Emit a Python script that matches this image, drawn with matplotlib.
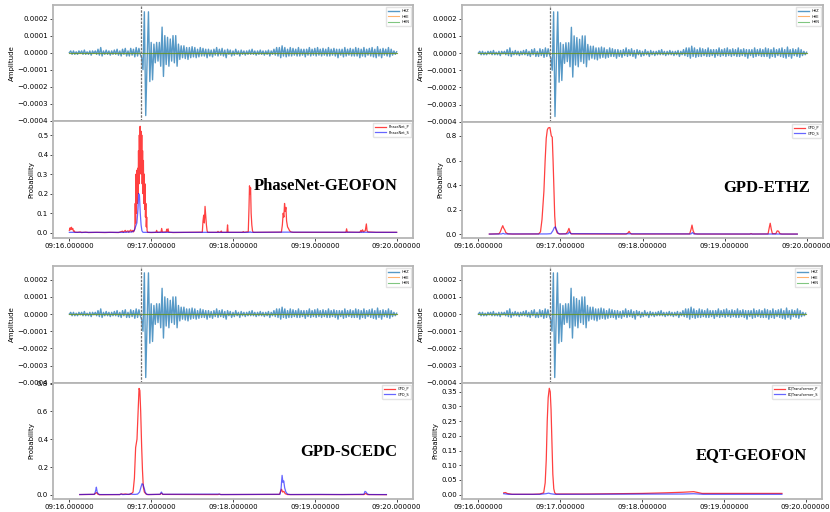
import matplotlib
matplotlib.use("Agg")
import matplotlib.pyplot as plt
from matplotlib.ticker import FuncFormatter, MultipleLocator
import numpy as np

# seconds after 09:16:00, one sample per second (0..240)
wave_t = list(range(241))
# HHZ amplitude, units of 1e-5
hhz = [
    0, 1, -1, 1, -1, 0.5, -1, 1, -0.5, 1,
    -1, 1.5, -1, 0.5, -1, 1, -1.5, 1, -0.5, 1,
    -1, 2, -1.5, 3, -2, 1, -1, 1.5, -1, 1,
    -1.5, 1, -1, 1.5, -1, 2, -1.5, 1, -2, 2,
    -1, 2.5, -2, 1, -2, 2.5, -1.5, 2, -2.5, 3,
    -2, 2.5, -1, -3, -10, 24, -37, -5, 24, -17,
    6, -16, 5, -6, 6, -5, 6, -8, 15, -14,
    10, -7, 9, -8, 8, -5, 10, -6, 10, -8,
    5, -4, 4, -3, 4, -3.5, 3, -4, 3, -3,
    3.5, -2.5, 3, -3, 2, -2.5, 3, -2, 2.5, -2,
    2, -3, 2, -2, 1.5, -2.5, 2, -1.5, 3, -2,
    2, -1.5, 2.5, -2, 1.5, -3, 2, -1, 1.5, -2,
    1, -1.5, 2, -1, 1, -2, 1.5, -1, 1, -1.5,
    1, -1, 1.5, -1, 2, -1, 1, -1.5, 1, -1,
    1.5, -1, 1, -1.5, 1, -1, 1.5, -2, 1, -1,
    2, -1.5, 3, -2, 3, -3, 4, -2, 3, -2.5,
    2, -2, 3, -2, 2.5, -1.5, 2, -2, 3, -2,
    2, -1.5, 2, -2.5, 2, -1.5, 3, -2, 2, -1.5,
    2.5, -2, 3, -1.5, 2, -2, 2.5, -1.5, 2, -2,
    3, -2, 2, -1.5, 2.5, -2, 2, -3, 2, -1.5,
    2, -2.5, 3, -2, 2, -1.5, 2.5, -2, 2, -2,
    3, -2, 2.5, -3, 2, -2, 3, -2.5, 2, -1.5,
    2.5, -2, 3, -2.5, 2, -3, 3.5, -2, 2, -3,
    2.5, -1.5, 2, -2, 3, -2.5, 2, -1.5, 1, -1,
    0.5,
]
hhe = [0.0] * 241
hhn = [0.0] * 241
pick_t = 52.3

# probability traces: (seconds after 09:16:00, probability)
phasenet_p = [(0, 0.012), (0.5, 0.025), (1, 0.015), (1.5, 0.028), (2, 0.018), (2.5, 0.022),
    (3, 0.008), (3.5, 0.01), (4, 0.003), (6, 0.002), (8, 0.004), (9, 0.001), (12, 0.003),
    (14, 0.001), (20, 0.002), (26, 0.001), (30, 0.002), (36, 0.001), (39, 0.008), (39.5, 0.002),
    (41, 0.012), (41.5, 0.004), (43, 0.01), (43.5, 0.003), (45, 0.014), (45.5, 0.005),
    (46.5, 0.012), (47, 0.004), (47.5, 0.01), (48, 0.02), (48.3, 0.15), (48.6, 0.05), (48.9, 0.3),
    (49.2, 0.1), (49.5, 0.32), (49.8, 0.15), (50.1, 0.33), (50.4, 0.2), (50.7, 0.42), (51.0, 0.25),
    (51.3, 0.5), (51.6, 0.3), (51.9, 0.545), (52.2, 0.35), (52.5, 0.52), (52.8, 0.3), (53.1, 0.5),
    (53.4, 0.25), (53.7, 0.42), (54.0, 0.2), (54.3, 0.37), (54.6, 0.15), (54.9, 0.3), (55.2, 0.12),
    (55.5, 0.25), (55.8, 0.08), (56.1, 0.15), (56.4, 0.03), (56.7, 0.08), (57.0, 0.01),
    (57.5, 0.002), (60, 0.001), (63.5, 0.002), (64, 0.012), (64.5, 0.002), (67.2, 0.003),
    (67.7, 0.022), (68.2, 0.003), (71, 0.004), (71.4, 0.018), (71.8, 0.005), (72.4, 0.02),
    (72.8, 0.003), (76, 0.001), (90, 0.002), (97.5, 0.003), (98, 0.06), (98.5, 0.09), (99, 0.05),
    (99.5, 0.135), (100, 0.09), (100.5, 0.04), (101, 0.01), (101.5, 0.002), (108.5, 0.002),
    (109, 0.007), (109.5, 0.002), (111, 0.003), (111.4, 0.009), (111.8, 0.002), (115.6, 0.002),
    (116, 0.04), (116.4, 0.002), (127, 0.002), (127.5, 0.006), (128, 0.002), (131.2, 0.005),
    (131.7, 0.12), (132.1, 0.24), (132.5, 0.2), (132.9, 0.23), (133.3, 0.1), (133.8, 0.04),
    (134.3, 0.01), (134.8, 0.002), (155.5, 0.003), (156.2, 0.04), (156.8, 0.1), (157.3, 0.08),
    (157.8, 0.15), (158.3, 0.11), (158.8, 0.13), (159.3, 0.06), (160, 0.03), (160.8, 0.02),
    (161.5, 0.01), (162.5, 0.004), (164, 0.002), (180, 0.002), (202.8, 0.002), (203.3, 0.02),
    (203.8, 0.003), (213, 0.002), (213.8, 0.012), (214.3, 0.004), (215, 0.015), (215.6, 0.005),
    (217, 0.01), (217.8, 0.045), (218.3, 0.01), (219, 0.004), (225, 0.002), (240, 0.002)]
phasenet_s = [(0, 0.002), (40, 0.002), (46, 0.004), (47.5, 0.01), (48.5, 0.03), (49.5, 0.05),
    (50.3, 0.12), (50.8, 0.2), (51.4, 0.19), (52, 0.1), (52.6, 0.04), (53.2, 0.01), (54, 0.002),
    (132, 0.002), (132.5, 0.005), (133, 0.002), (158, 0.003), (240, 0.002)]

gpd_ethz_p = [(8, 0.002), (15, 0.004), (16, 0.02), (17, 0.05), (17.8, 0.07), (18.5, 0.05),
    (19.3, 0.035), (20, 0.015), (21.5, 0.004), (25, 0.002), (44, 0.003), (45.4, 0.02),
    (46.5, 0.12), (47.9, 0.35), (48.8, 0.6), (49.6, 0.78), (50.4, 0.85), (51.1, 0.865),
    (52.3, 0.868), (53.3, 0.8), (54, 0.79), (54.6, 0.6), (55.2, 0.38), (55.8, 0.15), (56.4, 0.05),
    (57.6, 0.012), (59, 0.003), (64, 0.004), (65.2, 0.02), (66.2, 0.048), (67.2, 0.015),
    (68, 0.003), (108, 0.002), (109.5, 0.012), (110.2, 0.024), (111, 0.01), (112, 0.002),
    (154.5, 0.003), (155.5, 0.04), (156.2, 0.075), (157, 0.03), (158, 0.005), (160, 0.002),
    (198.5, 0.002), (199.4, 0.006), (200.3, 0.002), (211.8, 0.003), (212.8, 0.06), (213.4, 0.09),
    (214.2, 0.04), (215, 0.005), (217.5, 0.005), (218.5, 0.028), (219.5, 0.025), (220.5, 0.005),
    (222, 0.002), (233.2, 0.002)]
gpd_ethz_s = [(8, 0.002), (17, 0.003), (18, 0.008), (19, 0.003), (50, 0.003), (53, 0.005),
    (54.5, 0.03), (55.5, 0.055), (56.3, 0.06), (57.2, 0.035), (58.2, 0.01), (59.5, 0.003),
    (65.5, 0.004), (66.5, 0.02), (67.5, 0.005), (155.5, 0.003), (156.5, 0.015), (157.5, 0.003),
    (233.2, 0.002)]

gpd_scedc_p = [(7.6, 0.002), (18, 0.003), (19.3, 0.012), (20, 0.016), (21, 0.004), (22, 0.001),
    (37, 0.002), (38, 0.006), (39.5, 0.004), (41, 0.006), (43, 0.003), (45, 0.004), (46.7, 0.02),
    (47.7, 0.12), (48.6, 0.34), (49.6, 0.4), (50.5, 0.62), (51.1, 0.765), (51.7, 0.75),
    (52.3, 0.6), (53, 0.35), (53.6, 0.18), (54.2, 0.06), (55, 0.02), (56, 0.008), (57, 0.002),
    (66.5, 0.003), (67.5, 0.012), (68.5, 0.003), (109, 0.002), (110, 0.005), (111, 0.002),
    (154, 0.003), (155, 0.025), (155.6, 0.04), (156.4, 0.02), (157.3, 0.025), (158.3, 0.008),
    (160, 0.002), (216, 0.002), (217.3, 0.01), (218.5, 0.002), (232.5, 0.001)]
gpd_scedc_s = [(7.6, 0.002), (18.5, 0.004), (19.4, 0.035), (19.8, 0.055), (20.4, 0.02),
    (21, 0.01), (22, 0.002), (37, 0.002), (38, 0.006), (39, 0.002), (44, 0.004), (45, 0.01),
    (46, 0.004), (48, 0.003), (50, 0.005), (51.5, 0.02), (52.5, 0.055), (53.3, 0.08), (54, 0.075),
    (54.8, 0.05), (55.6, 0.02), (56.5, 0.005), (58, 0.002), (66.5, 0.004), (67.5, 0.02),
    (68.5, 0.004), (110, 0.005), (111, 0.002), (135, 0.003), (154.5, 0.004), (155.3, 0.05),
    (156, 0.14), (156.6, 0.09), (157.2, 0.1), (157.9, 0.05), (158.8, 0.02), (160, 0.005),
    (162, 0.002), (183, 0.003), (200, 0.002), (216, 0.004), (216.8, 0.025), (217.6, 0.02),
    (218.4, 0.008), (219.5, 0.002), (232.5, 0.002)]

eqt_p = [(18.6, 0.006), (20, 0.007), (21, 0.004), (24.7, 0.001), (40, 0.001), (45, 0.002),
    (47.9, 0.006), (49, 0.04), (49.8, 0.12), (50.5, 0.25), (51.2, 0.33), (52, 0.362),
    (52.7, 0.35), (53.3, 0.29), (54, 0.17), (54.6, 0.07), (55.3, 0.02), (56, 0.006), (57, 0.002),
    (80, 0.002), (100, 0.003), (120, 0.004), (137, 0.006), (150, 0.008), (157.9, 0.01),
    (161, 0.007), (164, 0.004), (190, 0.004), (222.6, 0.004)]
eqt_s = [(18.6, 0.003), (22, 0.001), (45, 0.001), (49.5, 0.003), (51.5, 0.005), (53, 0.003),
    (56, 0.001), (150, 0.002), (158, 0.003), (165, 0.001), (222.6, 0.001)]

W, H = 830, 512


def rect(left, right, top, bottom):
    return [left / W, 1 - bottom / H, (right - left) / W, (bottom - top) / H]


panels = [
    # name, P, S, legend names, ylim, label pos, box (left, right, top, split, bottom)
    ("PhaseNet-GEOFON", phasenet_p, phasenet_s, ("PhaseNet_P", "PhaseNet_S"),
     (-0.027, 0.572), (0.958, 0.445), (53, 413, 5, 121, 238)),
    ("GPD-ETHZ", gpd_ethz_p, gpd_ethz_s, ("GPD_P", "GPD_S"),
     (-0.03, 0.913), (0.963, 0.43), (462, 823, 5, 122, 238)),
    ("GPD-SCEDC", gpd_scedc_p, gpd_scedc_s, ("GPD_P", "GPD_S"),
     (-0.03, 0.804), (0.957, 0.405), (53, 413, 266, 383, 499)),
    ("EQT-GEOFON", eqt_p, eqt_s, ("EQTransformer_P", "EQTransformer_S"),
     (-0.015, 0.38), (0.958, 0.38), (462, 822, 266, 383, 499)),
]

fig = plt.figure(figsize=(8.3, 5.12), dpi=100)
amp = np.array(hhz) * 1e-5

time_fmt = FuncFormatter(lambda x, pos: "09:%02d.000000" % (16 + int(round(x / 60))))
amp_fmt = FuncFormatter(lambda x, pos: ("%.4f" % x).replace("-", "\u2212"))

for name, p, s, names, ylim, lpos, box in panels:
    l, r, t, m, b = box
    axw = fig.add_axes(rect(l, r, t, m))
    axp = fig.add_axes(rect(l, r, m, b), sharex=axw)

    axw.plot(wave_t, amp, color="#1f77b4", alpha=0.75, lw=1.0, label="HHZ")
    axw.plot(wave_t, np.array(hhe), color="#ff7f0e", alpha=0.6, lw=0.8, label="HHE")
    axw.plot(wave_t, np.array(hhn), color="#2ca02c", alpha=0.6, lw=0.8, label="HHN")
    axw.axvline(pick_t, color="0.45", ls=(0, (2, 1)), lw=0.9)
    axw.set_ylim(-0.000402, 0.00028)
    axw.yaxis.set_major_locator(MultipleLocator(0.0001))
    axw.yaxis.set_major_formatter(amp_fmt)
    axw.set_ylabel("Amplitude", fontsize=5, labelpad=2)
    axw.tick_params(axis="x", bottom=False, labelbottom=False)
    axw.legend(loc="upper right", fontsize=2.5, handlelength=3, frameon=True,
               edgecolor="#dddddd", borderpad=0.6)

    pt, pv = zip(*p)
    st, sv = zip(*s)
    axp.plot(pt, pv, color="red", alpha=0.75, lw=0.9, label=names[0])
    axp.plot(st, sv, color="blue", alpha=0.6, lw=0.9, label=names[1])
    axp.set_ylim(*ylim)
    axp.set_ylabel("Probability", fontsize=5, labelpad=2)
    axp.legend(loc="upper right", fontsize=2.5, handlelength=3, frameon=True,
               edgecolor="#dddddd", borderpad=0.6)
    axp.text(lpos[0], lpos[1], name, transform=axp.transAxes, ha="right", va="center",
             fontsize=12, fontweight="bold", family="Liberation Serif")

    axp.set_xticks([0, 60, 120, 180, 240])
    axp.xaxis.set_major_formatter(time_fmt)

    for ax in (axw, axp):
        ax.tick_params(labelsize=5, length=2, width=0.5, pad=1.5)
        for sp in ax.spines.values():
            sp.set_color("#b5b5b5")
            sp.set_linewidth(1.3)

fig.savefig("out.png", dpi=100)
